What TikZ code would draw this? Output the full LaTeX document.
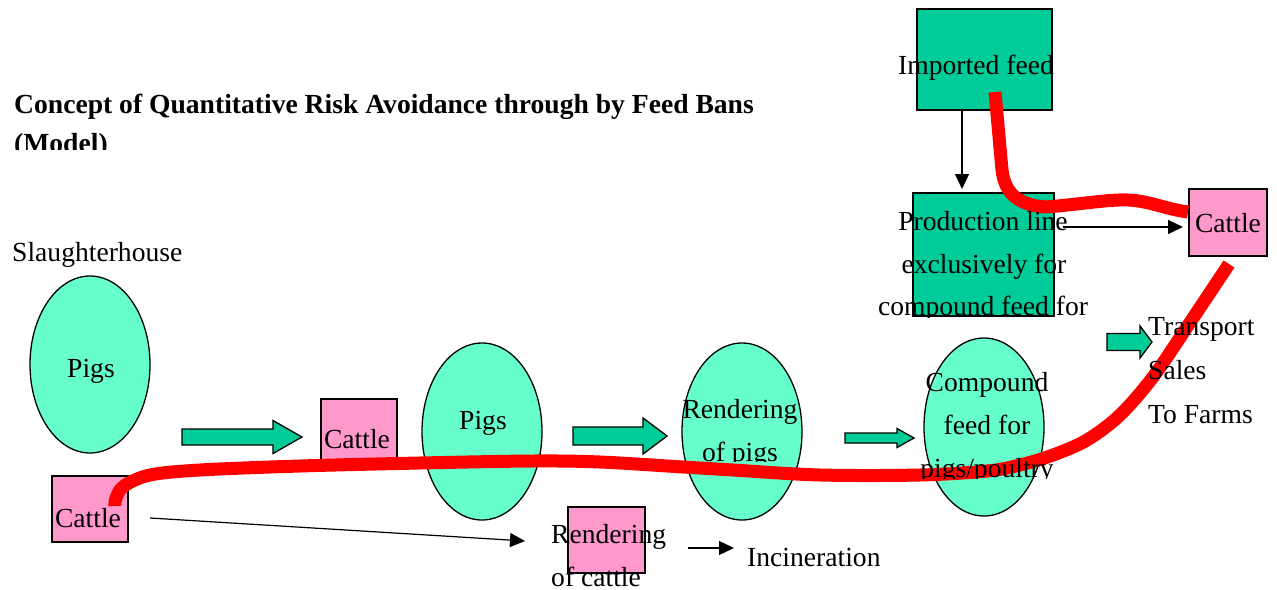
\documentclass[tikz,border=0pt]{standalone}
\usepackage{fontspec}
\setmainfont{Liberation Serif}
\usetikzlibrary{arrows.meta,shapes.geometric}
\definecolor{boxgreen}{RGB}{0,204,153}
\definecolor{lightaqua}{RGB}{102,255,204}
\definecolor{cattlepink}{RGB}{255,153,204}
\definecolor{riskred}{RGB}{255,0,0}
\newcommand{\blkarrow}[6]{%
  \draw[blockarrow] (#1,{#4-#5}) -- (#2,{#4-#5}) -- (#2,{#4-#6}) -- (#3,#4)
    -- (#2,{#4+#6}) -- (#2,{#4+#5}) -- (#1,{#4+#5}) -- cycle;}
\begin{document}
\begin{tikzpicture}[x=1pt,y=-1pt,
  lbl/.style={inner sep=0pt, anchor=base, font=\fontsize{27.6}{43}\selectfont},
  lbll/.style={lbl, anchor=base west},
  titlefont/.style={inner sep=0pt, anchor=base west, font=\fontsize{27.6}{40}\selectfont\bfseries},
  oval/.style={ellipse, draw=black, line width=1.3pt, fill=lightaqua, inner sep=0pt,
    minimum width=120pt, minimum height=177pt},
  greenbox/.style={rectangle, draw=black, line width=1.3pt, fill=boxgreen, inner sep=0pt},
  cattlebox/.style={rectangle, draw=black, line width=1.3pt, fill=cattlepink, inner sep=0pt,
    minimum width=76pt, minimum height=66pt},
  thinarrow/.style={-{Triangle[length=15pt,width=14pt]}, line width=1.2pt},
  riskline/.style={draw=riskred, line width=13pt},
  blockarrow/.style={draw=black, line width=1.3pt, fill=boxgreen}
]
\fill[white] (0,0) rectangle (1277,589);
\useasboundingbox (0,0) rectangle (1277,589);

% shapes
\node[greenbox, minimum width=135pt, minimum height=101pt] (imported) at (984.5,59.5) {};
\node[greenbox, minimum width=141pt, minimum height=123pt] (prodline) at (983.5,254.5) {};
\node[cattlebox, minimum width=78pt, minimum height=67pt] (cattleTR) at (1228,222.5) {};
\node[oval] (pigsA) at (90,364.5) {};
\node[cattlebox] (cattleM) at (359,432) {};
\node[cattlebox] (cattleA) at (90,509) {};
\node[oval] (pigsB) at (482,431.5) {};
\node[oval] (rendpigs) at (742,431.5) {};
\node[oval, minimum height=178pt] (compound) at (984,427) {};
\node[cattlebox, minimum width=77pt] (rendcattle) at (606.5,540) {};

% block arrows
\blkarrow{182}{273}{302}{437}{8}{16.5}
\blkarrow{573}{643}{667}{436}{9}{18}
\blkarrow{845}{897}{914}{438}{5}{9.5}
\blkarrow{1107}{1140}{1152}{342}{8.5}{16}

% thin arrows
\coordinate (ipA) at (962,110);
\coordinate (ipB) at (962,189);
\coordinate (pcA) at (1063,227);
\coordinate (pcB) at (1183,227);
\coordinate (crA) at (150,518);
\coordinate (crB) at (525,541);
\coordinate (riA) at (688,548);
\coordinate (riB) at (734,548);
\draw[thinarrow] (ipA) -- (ipB);
\draw[thinarrow] (pcA) -- (pcB);
\draw[thinarrow] (crA) -- (crB);
\draw[thinarrow] (riA) -- (riB);

% red risk lines
\draw[riskline] (995,92) -- (1002,170) .. controls (1005,195) and (1020,205) .. (1045,207)
  .. controls (1075,205) and (1110,199) .. (1128,200)
  .. controls (1150,201) and (1165,209) .. (1188,212);
\draw[riskline] plot[smooth, tension=0.55] coordinates {
  (1229,264) (1187,327) (1153,377) (1120,415) (1087,440) (1053,455) (1020,465)
  (987,471) (920,475) (820,475) (733,470) (683,467) (600,462) (533,461) (420,463)
  (300,466) (200,470) (150,475) (124,486) (116,498) (115,506)};

% texts
\node[titlefont] (title) at (14,113) {Concept of Quantitative Risk Avoidance through by Feed Bans};
\begin{scope}
  \clip (0,0) rectangle (800,149);
  \node[titlefont] (titleB) at (14,152) {(Model)};
\end{scope}
\node[lbll] (slaughter) at (12,261) {Slaughterhouse};
\node[lbl] (importedT) at (976,74) {Imported feed};
\node[lbl] (prodT1) at (983,230) {Production line};
\node[lbl] (prodT2) at (984,273) {exclusively for};
\begin{scope}
  \clip (850,250) rectangle (1110,317);
  \node[lbl] (prodT3) at (983,315) {compound feed for};
\end{scope}
\node[lbl] (cattleTRT) at (1228,232) {Cattle};
\node[lbl] (pigsAT) at (91,377) {Pigs};
\node[lbl] (cattleMT) at (357,448) {Cattle};
\node[lbl] (cattleAT) at (88,527) {Cattle};
\node[lbl] (pigsBT) at (483,429) {Pigs};
\node[lbl] (rendpigsT1) at (740,418) {Rendering};
\begin{scope}
  \clip (650,420) rectangle (830,461);
  \node[lbl] (rendpigsT2) at (740,461) {of pigs};
\end{scope}
\node[lbll] (rendcatT1) at (551,543) {Rendering};
\node[lbll] (rendcatT2) at (551,586) {of cattle};
\node[lbll] (incin) at (747,566) {Incineration};
\node[lbl] (compT1) at (987,391) {Compound};
\node[lbl] (compT2) at (987,434) {feed for};
\begin{scope}
  \clip (900,440) rectangle (1080,478);
  \node[lbl] (compT3) at (987,477) {pigs/poultry};
\end{scope}
\node[lbll] (transp1) at (1148,335) {Transport};
\node[lbll] (transp2) at (1148,379) {Sales};
\node[lbll] (transp3) at (1148,423) {To Farms};
\end{tikzpicture}
\end{document}
